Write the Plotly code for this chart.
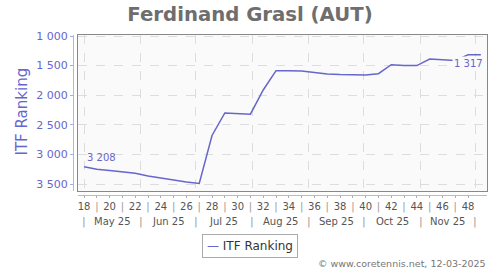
import datetime as dt
import plotly.graph_objects as go

# ---- data ----
weeks = list(range(18, 50))
ranking = [3208, 3250, 3270, 3290, 3320, 3365, 3400, 3440, 3465, 3490,
           2680, 2300, 2310, 2320, 1912, 1586, 1586, 1590, 1615, 1640,
           1650, 1660, 1660, 1637, 1485, 1500, 1500, 1390, 1400, 1415,
           1317, 1317]
week_ticks = list(range(18, 49))
y_ticks = [1000, 1500, 2000, 2500, 3000, 3500]
months = ["May 25", "Jun 25", "Jul 25", "Aug 25", "Sep 25", "Oct 25", "Nov 25"]
month_starts = [dt.date(2025, m, 1) for m in range(5, 13)]
title = "Ferdinand Grasl (AUT)"
series_name = "ITF Ranking"
credit = "\u00a9 www.coretennis.net, 12-03-2025"

# ---- styling ----
SLATE = "#6666cc"
ref_day = dt.date(2025, 5, 1)  # Thursday of ISO week 18
month_pos = [18 + (d - ref_day).days / 7 for d in month_starts]
x_range = [17.53, 49.48]
y_range = [3618, 983]

fig = go.Figure()
fig.add_trace(go.Scatter(x=weeks, y=ranking, mode="lines", name=series_name,
                         line=dict(color=SLATE, width=1.5), showlegend=False,
                         xaxis="x", yaxis="y"))
fig.add_trace(go.Scatter(x=[weeks[0]], y=[ranking[0]], mode="markers",
                         marker=dict(opacity=0), showlegend=False, hoverinfo="skip",
                         xaxis="x2", yaxis="y2"))

ticktext = []
for w in week_ticks:
    if w % 2 == 0:
        ticktext.append(str(w))
    else:
        ticktext.append("<span style='color:#999999'>|</span>")

def fmt(v):
    return f"{v:,}".replace(",", " ")

annotations = []
# value labels: first point and best ranking
i0 = 0
ib = ranking.index(min(ranking))
annotations.append(dict(x=weeks[i0], y=ranking[i0], xref="x", yref="y", text=fmt(ranking[i0]),
                        showarrow=False, xanchor="left", yanchor="bottom", xshift=1, yshift=2,
                        font=dict(family="DejaVu Sans", size=10, color=SLATE)))
annotations.append(dict(x=weeks[ib], y=ranking[ib], xref="x", yref="y", text=fmt(ranking[ib]),
                        showarrow=False, xanchor="center", yanchor="top", yshift=-1,
                        bgcolor="#fafafa",
                        font=dict(family="DejaVu Sans", size=10, color=SLATE)))
# month labels row
for i, m in enumerate(months):
    annotations.append(dict(x=(month_pos[i] + month_pos[i + 1]) / 2, y=-0.1625, xref="x", yref="paper",
                            text=m, showarrow=False, yanchor="middle",
                            font=dict(family="DejaVu Sans", size=10, color="#555555")))
for p in month_pos:
    annotations.append(dict(x=p, y=-0.1625, xref="x", yref="paper", text="|", showarrow=False,
                            yanchor="middle", font=dict(family="DejaVu Sans", size=11, color="#999999")))
# y axis title
annotations.append(dict(x=-0.124, y=0.52, xref="paper", yref="paper", text=series_name, textangle=-90,
                        showarrow=False, xanchor="center", yanchor="middle",
                        font=dict(family="DejaVu Sans", size=15, color=SLATE)))
# legend
annotations.append(dict(x=0.4275, y=-0.319, xref="paper", yref="paper",
                        text=f"<span style='color:{SLATE}'>\u2014</span> {series_name}",
                        showarrow=False, xanchor="center", yanchor="middle",
                        bordercolor="#aaaaaa", borderwidth=1, borderpad=4, bgcolor="white",
                        font=dict(family="DejaVu Sans", size=12, color="#333333")))
# credit
annotations.append(dict(x=1.0024, y=-0.431, xref="paper", yref="paper", text=credit,
                        showarrow=False, xanchor="right", yanchor="middle",
                        font=dict(family="DejaVu Sans", size=9.5, color="#777777")))

fig.update_layout(
    width=500, height=270,
    margin=dict(l=73, r=13, t=35, b=75),
    paper_bgcolor="white", plot_bgcolor="#fafafa",
    separators=". ",
    font=dict(family="DejaVu Sans"),
    title=dict(text=f"<b>{title}</b>", x=0.5, xref="container", xanchor="center",
               y=1 - 14 / 270, yref="container", yanchor="middle",
               font=dict(family="DejaVu Sans", size=19.7, color="#6e6e6e")),
    xaxis=dict(domain=[5 / 414, 1], range=x_range, tickvals=month_pos, showticklabels=False,
               ticks="", showgrid=True, gridcolor="#dddddd", griddash="dash", gridwidth=1,
               showline=True, mirror=True, linecolor="#888888", linewidth=1, zeroline=False),
    yaxis=dict(domain=[4 / 160, 1], range=y_range, tickvals=y_ticks, showticklabels=False,
               ticks="", showgrid=True, gridcolor="#dddddd", griddash="dash", gridwidth=1,
               showline=True, mirror=True, linecolor="#888888", linewidth=1, zeroline=False),
    xaxis2=dict(overlaying="x", anchor="free", position=0, range=x_range,
                tickvals=week_ticks, ticktext=ticktext, ticks="outside", ticklen=2,
                tickcolor="#aaaaaa", showline=True, linecolor="#bbbbbb", linewidth=1,
                showgrid=False, zeroline=False,
                tickfont=dict(family="DejaVu Sans", size=10, color="#555555")),
    yaxis2=dict(overlaying="y", anchor="free", position=0, side="left", range=y_range,
                tickvals=y_ticks, tickformat=",d", ticks="outside", ticklen=3,
                tickcolor="#aaaadd", showline=True, linecolor="#b4b4dc", linewidth=1,
                showgrid=False, zeroline=False,
                tickfont=dict(family="DejaVu Sans", size=11, color=SLATE)),
    annotations=annotations,
    showlegend=False,
)

fig.write_html("out.html")
